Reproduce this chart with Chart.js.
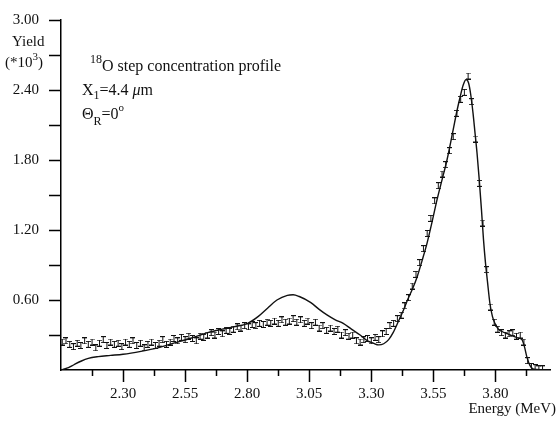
<!DOCTYPE html>
<html>
<head>
<meta charset="utf-8">
<script src="https://cdn.jsdelivr.net/npm/chart.js@4.4.0/dist/chart.umd.min.js"></script>
<style>
  html, body { margin: 0; padding: 0; background: #fff; }
  #wrap { width: 559px; height: 421px; }
</style>
</head>
<body>
<div id="wrap"><canvas id="chart" width="559" height="421"></canvas></div>
<script>
// measured spectrum (MeV, yield *10^3)
const energies = [
  2.055, 2.070, 2.085, 2.100, 2.115, 2.130, 2.145, 2.160, 2.175, 2.190,
  2.205, 2.220, 2.235, 2.250, 2.265, 2.280, 2.295, 2.310, 2.325, 2.340,
  2.355, 2.370, 2.385, 2.400, 2.415, 2.430, 2.445, 2.460, 2.475, 2.490,
  2.505, 2.520, 2.535, 2.550, 2.565, 2.580, 2.595, 2.610, 2.625, 2.640,
  2.655, 2.670, 2.685, 2.700, 2.715, 2.730, 2.745, 2.760, 2.775, 2.790,
  2.805, 2.820, 2.835, 2.850, 2.865, 2.880, 2.895, 2.910, 2.925, 2.940,
  2.955, 2.970, 2.985, 3.000, 3.015, 3.030, 3.045, 3.060, 3.075, 3.090,
  3.105, 3.120, 3.135, 3.150, 3.165, 3.180, 3.195, 3.210, 3.225, 3.240,
  3.255, 3.270, 3.285, 3.300, 3.315, 3.330, 3.345, 3.360, 3.375, 3.390,
  3.405, 3.420, 3.435, 3.450, 3.465, 3.480, 3.495, 3.510, 3.525, 3.540,
  3.555, 3.570, 3.585, 3.600, 3.615, 3.630, 3.645, 3.660, 3.675, 3.690,
  3.705, 3.720, 3.735, 3.750, 3.765, 3.780, 3.795, 3.810, 3.825, 3.840,
  3.855, 3.870, 3.885, 3.900, 3.915, 3.930, 3.945, 3.960, 3.975, 3.990
];
const yields = [
  0.24, 0.25, 0.22, 0.20, 0.23, 0.21, 0.25, 0.22, 0.24, 0.19,
  0.23, 0.26, 0.21, 0.24, 0.22, 0.23, 0.20, 0.24, 0.22, 0.25,
  0.21, 0.23, 0.19, 0.22, 0.24, 0.21, 0.23, 0.26, 0.22, 0.24,
  0.27, 0.25, 0.28, 0.26, 0.29, 0.27, 0.25, 0.29, 0.28, 0.30,
  0.32, 0.30, 0.33, 0.31, 0.34, 0.33, 0.35, 0.37, 0.36, 0.38,
  0.37, 0.39, 0.38, 0.40, 0.39, 0.41, 0.40, 0.42, 0.40, 0.43,
  0.41, 0.42, 0.44, 0.41, 0.43, 0.40, 0.42, 0.38, 0.41, 0.36,
  0.38, 0.34, 0.36, 0.33, 0.35, 0.30, 0.32, 0.29, 0.30, 0.25,
  0.24, 0.26, 0.27, 0.25, 0.28, 0.26, 0.31, 0.33, 0.38, 0.40,
  0.44, 0.47, 0.55, 0.62, 0.72, 0.82, 0.92, 1.04, 1.17, 1.30,
  1.45, 1.58, 1.68, 1.76, 1.88, 2.00, 2.20, 2.32, 2.38, 2.52,
  2.30, 1.98, 1.60, 1.26, 0.86, 0.54, 0.41, 0.35, 0.32, 0.30,
  0.31, 0.32, 0.29, 0.30, 0.24, 0.08, 0.03, 0.02, 0.01, 0.01
];

// simulated step profile
const simEnergies = [
  2.050, 2.058, 2.080, 2.102, 2.130, 2.160, 2.200, 2.250, 2.300, 2.372,
  2.440, 2.504, 2.570, 2.641, 2.700, 2.745, 2.802, 2.845, 2.882, 2.920,
  2.962, 2.985, 3.010, 3.055, 3.090, 3.123, 3.155, 3.187, 3.220, 3.255,
  3.285, 3.308, 3.330, 3.350, 3.370, 3.388, 3.410, 3.429, 3.448, 3.465,
  3.485, 3.505, 3.525, 3.545, 3.565, 3.585, 3.605, 3.630, 3.645, 3.658,
  3.670, 3.682, 3.692, 3.700, 3.710, 3.718, 3.726, 3.735, 3.744, 3.752,
  3.760, 3.768, 3.778, 3.788, 3.798, 3.812, 3.827, 3.850, 3.871, 3.890,
  3.907, 3.917, 3.927, 3.939, 3.951, 3.965, 4.019
];
const simYields = [
  0.000, 0.005, 0.020, 0.045, 0.075, 0.100, 0.115, 0.125, 0.135, 0.160,
  0.190, 0.230, 0.270, 0.320, 0.350, 0.370, 0.400, 0.460, 0.530, 0.600,
  0.640, 0.645, 0.630, 0.580, 0.520, 0.470, 0.430, 0.400, 0.350, 0.300,
  0.250, 0.230, 0.215, 0.225, 0.260, 0.320, 0.420, 0.510, 0.610, 0.690,
  0.800, 0.940, 1.090, 1.270, 1.460, 1.630, 1.800, 2.060, 2.220, 2.340,
  2.440, 2.490, 2.460, 2.370, 2.200, 2.030, 1.860, 1.630, 1.370, 1.120,
  0.920, 0.760, 0.570, 0.460, 0.400, 0.350, 0.330, 0.310, 0.290, 0.275,
  0.260, 0.200, 0.110, 0.040, 0.010, 0.005, 0.000
];

const xTicks = [2.175, 2.30, 2.425, 2.55, 2.675, 2.80, 2.925, 3.05, 3.175, 3.30, 3.425, 3.55, 3.675, 3.80, 3.925];
const xLabels = ['2.30', '2.55', '2.80', '3.05', '3.30', '3.55', '3.80'];
const yTicks = [0.3, 0.6, 0.9, 1.2, 1.5, 1.8, 2.1, 2.4, 2.7, 3.0];
const yLabels = ['0.60', '1.20', '1.80', '2.40', '3.00'];

const SERIF = '"Liberation Serif", "DejaVu Serif", serif';

function errorBarGlyph() {
  const c = document.createElement('canvas');
  c.width = 5;
  c.height = 7;
  const g = c.getContext('2d');
  g.strokeStyle = '#111';
  g.lineWidth = 1;
  g.beginPath();
  g.moveTo(0, 0.5); g.lineTo(5, 0.5);
  g.moveTo(2.5, 0); g.lineTo(2.5, 7);
  g.moveTo(0, 6.5); g.lineTo(5, 6.5);
  g.stroke();
  return c;
}

// draws a run of text pieces: [text, size, dy, italic]
function drawRuns(ctx, x, y, parts) {
  parts.forEach(([text, size, dy, italic]) => {
    ctx.font = (italic ? 'italic ' : '') + size + 'px ' + SERIF;
    ctx.fillText(text, x, y + dy);
    x += ctx.measureText(text).width;
  });
}

const decorations = {
  id: 'decorations',
  afterDraw(chart) {
    const { ctx, scales: { x, y } } = chart;
    ctx.save();
    ctx.strokeStyle = '#000';
    ctx.lineWidth = 1.5;
    ctx.beginPath();
    y.ticks.forEach(t => {
      const py = Math.round(y.getPixelForValue(t.value)) + 0.5;
      ctx.moveTo(y.right - 12, py);
      ctx.lineTo(y.right, py);
    });
    x.ticks.forEach(t => {
      const px = Math.round(x.getPixelForValue(t.value)) + 0.5;
      ctx.moveTo(px, x.top);
      ctx.lineTo(px, x.top + (t.label ? 12 : 6));
    });
    ctx.stroke();

    ctx.fillStyle = '#111';
    ctx.textAlign = 'left';
    ctx.textBaseline = 'alphabetic';
    drawRuns(ctx, 12, 46, [['Yield', 15, 0]]);
    drawRuns(ctx, 5, 67, [['(*10', 15, 0], ['3', 11, -7], [')', 15, 0]]);

    drawRuns(ctx, 90, 71, [['18', 12, -8], ['O step concentration profile', 16, 0]]);
    drawRuns(ctx, 82, 95, [['X', 16, 0], ['1', 12, 4], ['=4.4 ', 16, 0], ['\u03bc', 16, 0, true], ['m', 16, 0]]);
    drawRuns(ctx, 82, 119, [['\u0398', 16, 0], ['R', 12, 6], ['=0', 16, 0], ['o', 11, -8]]);

    ctx.textAlign = 'right';
    ctx.font = '15px ' + SERIF;
    ctx.fillText('Energy (MeV)', 556, 413);
    ctx.restore();
  }
};

new Chart(document.getElementById('chart'), {
  data: {
    datasets: [
      {
        type: 'line',
        data: simEnergies.map((e, i) => ({ x: e, y: simYields[i] })),
        borderColor: '#111',
        borderWidth: 1.4,
        pointRadius: 0,
        cubicInterpolationMode: 'monotone',
        fill: false
      },
      {
        type: 'scatter',
        data: energies.map((e, i) => ({ x: e, y: yields[i] })),
        pointStyle: errorBarGlyph(),
        pointRadius: 3,
        showLine: false
      }
    ]
  },
  options: {
    responsive: false,
    animation: false,
    devicePixelRatio: 1,
    layout: { padding: { top: 20, right: 9, left: 0, bottom: 0 } },
    plugins: { legend: { display: false }, tooltip: { enabled: false } },
    scales: {
      x: {
        type: 'linear',
        min: 2.05,
        max: 4.02,
        afterBuildTicks: scale => { scale.ticks = xTicks.map(v => ({ value: v })); },
        afterFit: scale => { scale.height = 51; },
        grid: { display: false, drawTicks: false },
        border: { display: true, color: '#000', width: 1.5 },
        ticks: {
          autoSkip: false,
          maxRotation: 0,
          padding: 15,
          color: '#111',
          font: { family: SERIF, size: 15 },
          callback: v => {
            const s = v.toFixed(2);
            return xLabels.includes(s) ? s : '';
          }
        }
      },
      y: {
        type: 'linear',
        min: 0,
        max: 3,
        afterBuildTicks: scale => { scale.ticks = yTicks.map(v => ({ value: v })); },
        afterFit: scale => { scale.width = 61; },
        grid: { display: false, drawTicks: true, tickLength: 20 },
        border: { display: true, color: '#000', width: 1.5 },
        ticks: {
          autoSkip: false,
          padding: 2,
          color: '#111',
          font: { family: SERIF, size: 15 },
          callback: v => {
            const s = v.toFixed(2);
            return yLabels.includes(s) ? s : '';
          }
        }
      }
    }
  },
  plugins: [decorations]
});
</script>
</body>
</html>
